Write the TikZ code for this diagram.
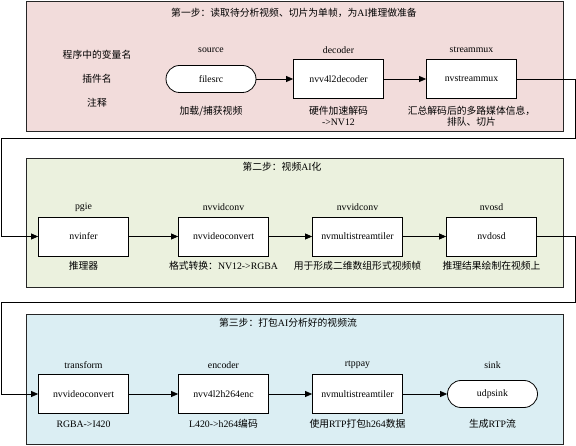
\documentclass[tikz,border=0pt]{standalone}
\usepackage{fontspec}
\setmainfont{Liberation Serif}
\newfontfamily\cjk{Noto Sans CJK SC}
\usetikzlibrary{arrows.meta}
\definecolor{stepone}{HTML}{F2DCDB}
\definecolor{steptwo}{HTML}{EBF1DE}
\definecolor{stepthree}{HTML}{DBEEF3}

\begin{document}
\begin{tikzpicture}[x=1pt,y=-1pt,
  font=\fontsize{9.8}{10.5}\selectfont,
  panel/.style={draw=black!85,line width=0.8pt},
  elem/.style={draw,fill=white,line width=0.8pt,inner sep=0pt,
               minimum width=90pt,minimum height=39pt},
  term/.style={draw,fill=white,line width=0.8pt,inner sep=0pt,rounded corners=13.5pt,
               minimum width=90pt,minimum height=27pt},
  tag/.style={inner sep=0pt},
  note/.style={inner sep=0pt,align=center},
  flow/.style={line width=0.8pt,-{Triangle[length=7pt,width=6pt]}}]

\useasboundingbox (0,0) rectangle (576,446);

% the three steps
\draw[panel,fill=stepone] (26,1) rectangle (563,131);
\draw[panel,fill=steptwo] (26,158) rectangle (563,287);
\draw[panel,fill=stepthree] (26,314) rectangle (563,444);

\node[tag] (title1) at (294,13) {{\cjk 第一步：读取待分析视频、切片为单帧，为}AI{\cjk 推理做准备}};
\node[tag] (title2) at (282,167) {{\cjk 第二步：视频}AI{\cjk 化}};
\node[tag] (title3) at (288,323) {{\cjk 第三步：打包}AI{\cjk 分析好的视频流}};

\node[tag] (hvar) at (97,55) {\cjk 程序中的变量名};
\node[tag] (hplug) at (97,79) {\cjk 插件名};
\node[tag] (hnote) at (97,103) {\cjk 注释};

% step 1: read and split
\node[term] (src) at (211,79) {filesrc};
\node[elem] (dec) at (338.5,79) {nvv4l2decoder};
\node[elem] (mux) at (471.5,79) {nvstreammux};

\node[tag] (srcvar) at (211,50) {source};
\node[tag] (decvar) at (338.5,50) {decoder};
\node[tag] (muxvar) at (471.5,50) {streammux};

\node[note] (srcnote) at (211,111) {\cjk 加载/捕获视频};
\node[note] (decnote) at (338.5,116) {{\cjk 硬件加速解码}\\->NV12};
\node[note] (muxnote) at (471.5,116) {{\cjk 汇总解码后的多路媒体信息，}\\{\cjk 排队、切片}};

% step 2: inference
\node[elem] (inf) at (83.5,236.5) {nvinfer};
\node[elem] (conv) at (223.5,236.5) {nvvideoconvert};
\node[elem] (tiler) at (357.5,236.5) {nvmultistreamtiler};
\node[elem] (osd) at (491.5,236.5) {nvdosd};

\node[tag] (infvar) at (83.5,207.5) {pgie};
\node[tag] (convvar) at (223.5,207.5) {nvvidconv};
\node[tag] (tilervar) at (357.5,207.5) {nvvidconv};
\node[tag] (osdvar) at (491.5,207.5) {nvosd};

\node[note] (infnote) at (83.5,266) {\cjk 推理器};
\node[note] (convnote) at (223.5,266) {{\cjk 格式转换：}NV12->RGBA};
\node[note] (tilernote) at (357.5,266) {\cjk 用于形成二维数组形式视频帧};
\node[note] (osdnote) at (491.5,266) {\cjk 推理结果绘制在视频上};

% step 3: encode and send
\node[elem] (tconv) at (83.5,394) {nvvideoconvert};
\node[elem] (enc) at (223.5,394) {nvv4l2h264enc};
\node[elem] (pay) at (357.5,394) {nvmultistreamtiler};
\node[term] (sink) at (492.5,394) {udpsink};

\node[tag] (tconvvar) at (83.5,365) {transform};
\node[tag] (encvar) at (223.5,365) {encoder};
\node[tag] (payvar) at (357.5,365) {rtppay};
\node[tag] (sinkvar) at (492.5,365) {sink};

\node[note] (tconvnote) at (83.5,424) {RGBA->I420};
\node[note] (encnote) at (223.5,424) {L420->h264{\cjk 编码}};
\node[note] (paynote) at (357.5,424) {{\cjk 使用}RTP{\cjk 打包}h264{\cjk 数据}};
\node[note] (sinknote) at (492.5,424) {{\cjk 生成}RTP{\cjk 流}};

\coordinate (r1) at (575,138);
\coordinate (l1) at (1,138);
\coordinate (r2) at (575,302);
\coordinate (l2) at (1,302);

\draw[flow] (src) -- (dec);
\draw[flow] (dec) -- (mux);
\draw[flow] (mux.east) -| (r1) -- (l1) |- (inf.west);
\draw[flow] (inf) -- (conv);
\draw[flow] (conv) -- (tiler);
\draw[flow] (tiler) -- (osd);
\draw[flow] (osd.east) -| (r2) -- (l2) |- (tconv.west);
\draw[flow] (tconv) -- (enc);
\draw[flow] (enc) -- (pay);
\draw[flow] (pay) -- (sink);
\end{tikzpicture}
\end{document}
